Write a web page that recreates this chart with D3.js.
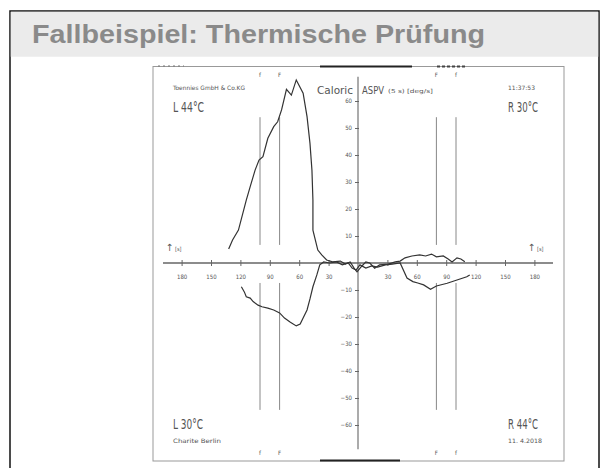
<!DOCTYPE html>
<html>
<head>
<meta charset="utf-8">
<script src="https://cdn.jsdelivr.net/npm/d3@7"></script>
<style>
  body { margin: 0; background: #fff; }
  svg { display: block; }
  .plot text { font-family: "Liberation Sans Narrow", "DejaVu Sans Condensed", "Liberation Sans", sans-serif; fill: #555; }
</style>
</head>
<body>
<div id="chart"></div>
<script>
// time in s (negative = left half of the plot), slow phase velocity in deg/s
upperTime = [-132, -128, -122, -114, -110, -105, -101, -97, -92, -86, -82, -78, -73, -68, -63, -56, -52, -49, -47, -46, -46, -41, -37, -32, -26, -18, -13, -8, -4, -1, 4, 8, 12, 17, 22, 31, 38, 43, 48, 55, 63, 69, 75, 80, 87, 92, 96, 101, 105, 109]
upperSpv  = [5.2, 8.5, 12.2, 23.3, 28.3, 34.4, 38.1, 39.4, 46.2, 50.5, 52.3, 56.7, 64.3, 62.2, 67.8, 62.9, 54.2, 44.3, 34.4, 23.3, 12.2, 4.8, 3.0, 1.1, 0.4, 0.7, -0.4, 0.4, -1.9, -3.3, -1.1, 0.4, 0, -1.9, -0.7, -0.4, 0.4, 0.7, 1.9, 2.6, 3.0, 2.6, 3.3, 2.3, 2.6, 1.5, 0.4, 1.9, 1.5, 0.5]

lowerTime = [-119, -116, -114, -110, -107, -102, -98, -92, -86, -80, -75, -69, -63, -59, -56, -52, -49, -46, -42, -39, -35, -29, -22, -16, -10, -6, -2, 2, 8, 14, 20, 28, 35, 43, 50, 56, 61, 67, 74, 80, 91, 101, 111, 114]
lowerSpv  = [-8.8, -10.7, -12.5, -13.0, -14.3, -15.6, -16.2, -16.7, -17.4, -18.5, -20.4, -21.9, -23.3, -22.6, -20.4, -17.4, -13.3, -8.8, -4.4, -0.7, 0.4, 0, 0.4, -0.7, 0, -1.9, -2.6, -0.7, -1.9, -1.1, -1.5, -0.7, -0.4, 0, -5.6, -6.9, -7.4, -8.1, -9.7, -8.5, -7.5, -6.3, -5.1, -4.4]

xTicks = [-180, -150, -120, -90, -60, -30, 30, 60, 90, 120, 150, 180]
yTicks = [-60, -50, -40, -30, -20, -10, 10, 20, 30, 40, 50, 60]
markerTimes = [-100, -80, 80, 100]
markerLabels = ["f", "F", "F", "f"]

W = 606, H = 468

svg = d3.select("#chart").append("svg")
  .attr("width", W).attr("height", H)

// slide frame and title band
svg.append("rect").attr("x", 10).attr("y", 11).attr("width", 589).attr("height", 470)
  .attr("fill", "#fff").attr("stroke", "#111").attr("stroke-width", 1.5)
svg.append("rect").attr("x", 10.75).attr("y", 11.75).attr("width", 587.5).attr("height", 45)
  .attr("fill", "#ebebeb")
svg.append("text").attr("x", 32).attr("y", 43)
  .attr("font-family", "Liberation Sans, Arial, sans-serif")
  .attr("font-weight", "bold").attr("font-size", 25)
  .attr("fill", "#8a8a8a")
  .attr("textLength", 453).attr("lengthAdjust", "spacingAndGlyphs")
  .text("Fallbeispiel: Thermische Prüfung")

plot = svg.append("g").attr("class", "plot")

// scanned plot border
plot.append("rect").attr("x", 153).attr("y", 66.5).attr("width", 411).attr("height", 394.5)
  .attr("fill", "none").attr("stroke", "#999").attr("stroke-width", 1)
plot.append("line").attr("x1", 320).attr("x2", 412).attr("y1", 66.5).attr("y2", 66.5)
  .attr("stroke", "#222").attr("stroke-width", 2)
plot.append("line").attr("x1", 437).attr("x2", 465).attr("y1", 66.5).attr("y2", 66.5)
  .attr("stroke", "#444").attr("stroke-width", 2).attr("stroke-dasharray", "3,2")
plot.append("line").attr("x1", 320).attr("x2", 400).attr("y1", 460.5).attr("y2", 460.5)
  .attr("stroke", "#222").attr("stroke-width", 2)
plot.append("line").attr("x1", 158).attr("x2", 184).attr("y1", 66).attr("y2", 66)
  .attr("stroke", "#777").attr("stroke-width", 1).attr("stroke-dasharray", "2,3")

x = d3.scaleLinear().domain([-180, 180]).range([181.6, 534.4])
y = d3.scaleLinear().domain([-60, 60]).range([425, 101])

// marker lines
markers = plot.append("g")
markerTimes.forEach((t, i) => {
  markers.append("line").attr("x1", x(t)).attr("x2", x(t)).attr("y1", y(54)).attr("y2", y(6.7))
    .attr("stroke", "#888").attr("stroke-width", 1)
  markers.append("line").attr("x1", x(t)).attr("x2", x(t)).attr("y1", y(-7.4)).attr("y2", y(-54.4))
    .attr("stroke", "#888").attr("stroke-width", 1)
  markers.append("text").attr("x", x(t)).attr("y", 77).attr("text-anchor", "middle")
    .attr("font-size", 6).text(markerLabels[i])
  markers.append("text").attr("x", x(t)).attr("y", 455).attr("text-anchor", "middle")
    .attr("font-size", 6).text(markerLabels[i])
})

// axes lines
plot.append("line").attr("x1", x(-199)).attr("x2", x(199)).attr("y1", y(0)).attr("y2", y(0))
  .attr("stroke", "#666").attr("stroke-width", 1.3)
plot.append("line").attr("x1", x(0)).attr("x2", x(0)).attr("y1", y(69)).attr("y2", y(-69))
  .attr("stroke", "#666").attr("stroke-width", 1.1)

xAxis = plot.append("g")
  .attr("transform", `translate(0, ${y(0)})`)
  .call(d3.axisBottom(x).tickValues(xTicks).tickSize(3).tickPadding(9).tickFormat(d => Math.abs(d)))
xAxis.select(".domain").remove()
xAxis.selectAll(".tick line").attr("y1", -3).attr("stroke", "#666")
xAxis.selectAll(".tick text").attr("font-size", 6).attr("fill", "#666")
  .attr("font-family", "DejaVu Sans Condensed, sans-serif")

yAxis = plot.append("g")
  .attr("transform", `translate(${x(0)}, 0)`)
  .call(d3.axisLeft(y).tickValues(yTicks).tickSize(3).tickPadding(3).tickFormat(d3.format("d")))
yAxis.select(".domain").remove()
yAxis.selectAll(".tick line").attr("x2", -3).attr("x1", 1).attr("stroke", "#666")
yAxis.selectAll(".tick text").attr("font-size", 6).attr("fill", "#666")
  .attr("font-family", "DejaVu Sans Condensed, sans-serif")

// curves
line = d3.line().x(d => x(d[0])).y(d => y(d[1])).curve(d3.curveLinear)
plot.append("path").datum(d3.zip(upperTime, upperSpv))
  .attr("d", line).attr("fill", "none").attr("stroke", "#333").attr("stroke-width", 1.2)
plot.append("path").datum(d3.zip(lowerTime, lowerSpv))
  .attr("d", line).attr("fill", "none").attr("stroke", "#333").attr("stroke-width", 1.2)

// texts
function label(tx, ty, str, size, len) {
  t = plot.append("text").attr("x", tx).attr("y", ty).attr("font-size", size).text(str)
  if (len) t.attr("textLength", len).attr("lengthAdjust", "spacingAndGlyphs")
  return t
}
label(173, 90, "Toennies GmbH & Co.KG", 6, 72)
label(173, 112, "L 44°C", 14, 31).attr("fill", "#333")
label(508, 90, "11:37:53", 6, 27)
label(508, 112, "R 30°C", 14, 30).attr("fill", "#333")
label(173, 429, "L 30°C", 14, 30).attr("fill", "#333")
label(173, 443, "Charite Berlin", 6, 48)
label(508, 429, "R 44°C", 14, 30).attr("fill", "#333")
label(508, 443, "11. 4.2018", 6, 34)
label(317, 94, "Caloric", 11, 36).attr("fill", "#444")
label(362, 94, "ASPV", 11, 22).attr("fill", "#444")
label(388, 93, "(5 s) [deg/s]", 5.5, 45)
label(166, 251, "↑", 10).attr("fill", "#444")
label(175, 251, "[s]", 5.5)
label(528, 251, "↑", 10).attr("fill", "#444")
label(537, 251, "[s]", 5.5)
</script>
</body>
</html>
